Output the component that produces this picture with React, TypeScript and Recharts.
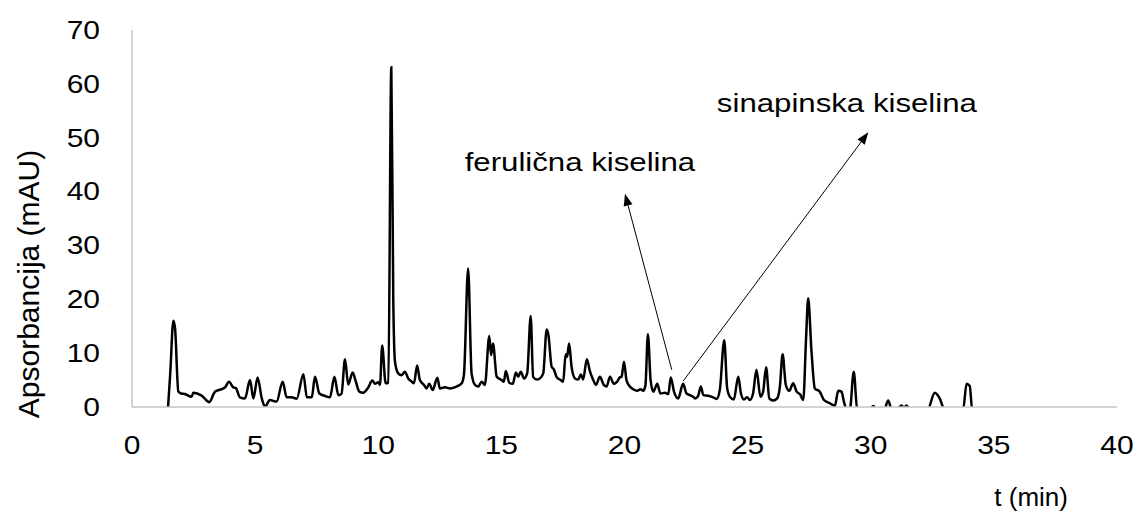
import { LineChart, Line, XAxis, YAxis, ReferenceLine, ReferenceDot } from 'recharts';

// retention time (min) and absorbance (mAU)
const times = [
  1.45, 1.55, 1.68, 1.75, 1.88, 2.0, 2.15, 2.42, 2.49, 2.83, 3.14, 3.37, 3.57, 3.78, 3.94, 4.11, 4.22, 4.38,
  4.59, 4.79, 4.93, 5.1, 5.27, 5.4, 5.6, 5.87, 6.12, 6.28, 6.48, 6.69, 6.96, 7.1, 7.3, 7.43, 7.61, 7.84,
  8.04, 8.22, 8.38, 8.51, 8.65, 8.78, 8.96, 9.09, 9.23, 9.39, 9.59, 9.76, 9.87, 10.0, 10.07, 10.16, 10.3,
  10.41, 10.53, 10.61, 10.68, 10.81, 10.95, 11.08, 11.22, 11.36, 11.45, 11.58, 11.69, 11.86, 11.96, 12.07,
  12.21, 12.4, 12.5, 12.71, 12.91, 13.18, 13.39, 13.48, 13.65, 13.79, 13.93, 14.06, 14.2, 14.33, 14.51,
  14.58, 14.66, 14.81, 15.01, 15.1, 15.18, 15.32, 15.46, 15.59, 15.68, 15.79, 15.92, 16.05, 16.19, 16.29,
  16.43, 16.56, 16.7, 16.84, 16.91, 17.04, 17.13, 17.24, 17.41, 17.51, 17.61, 17.67, 17.75, 17.85, 17.99,
  18.12, 18.23, 18.32, 18.47, 18.6, 18.73, 18.84, 19.0, 19.16, 19.27, 19.41, 19.57, 19.7, 19.81, 19.88,
  19.98, 20.08, 20.22, 20.35, 20.52, 20.65, 20.76, 20.85, 20.95, 21.06, 21.17, 21.33, 21.46, 21.64, 21.78,
  21.88, 22.01, 22.18, 22.38, 22.52, 22.66, 22.79, 22.86, 22.99, 23.1, 23.2, 23.4, 23.6, 23.74, 23.87,
  24.05, 24.17, 24.28, 24.44, 24.62, 24.73, 24.85, 24.98, 25.09, 25.22, 25.36, 25.52, 25.63, 25.75, 25.88,
  26.04, 26.2, 26.31, 26.42, 26.55, 26.69, 26.85, 26.99, 27.12, 27.26, 27.37, 27.46, 27.59, 27.73, 27.93,
  28.1, 28.34, 28.54, 28.68, 28.81, 28.91, 29.02, 29.15, 29.31, 29.45, 29.7, 30.0, 30.1, 30.25, 30.55,
  30.71, 30.85, 31.1, 31.25, 31.35, 31.45, 31.6, 32.3, 32.6, 32.8, 33.0, 33.75, 33.89, 34.02, 34.12, 35.0,
];

const absorbance = [
  -1, 6, 16.0, 14.5, 2.9, 2.5, 2.4, 1.9, 2.65, 2.1, 0.9, 2.85, 3.2, 3.65, 4.7, 3.65, 3.5, 1.8,
  1.6, 5.0, 1.6, 5.5, 1.6, 0.05, 1.3, 1.0, 4.7, 1.8, 1.8, 1.55, 6.1, 1.8, 1.8, 5.6, 2.5, 2.05,
  1.8, 5.6, 2.2, 2.5, 8.85, 4.2, 6.4, 4.7, 2.85, 2.65, 3.6, 4.9, 4.3, 4.6, 4.1, 11.4, 4.4,
  4.5, 63.1, 20, 8.4, 6.25, 5.9, 6.55, 5.3, 4.7, 4.4, 7.7, 5.0, 4.1, 3.45, 4.3,
  3.15, 5.45, 3.45, 3.65, 3.45, 3.8, 4.4, 6, 25.7, 6.25, 4.1, 3.8, 4.7, 4.1, 13.2,
  9.65, 11.8, 5.6, 5.0, 4.7, 6.7, 4.5, 4.3, 6.4, 5.6, 6.55, 5.3, 6.3, 16.9, 5.6,
  5.1, 5.3, 6.25, 14.4, 13.4, 7.5, 7.0, 5.6, 5.0, 4.7, 9.8, 9.3, 11.8, 7.5, 5.3,
  5.1, 6.05, 5.1, 8.85, 6.55, 5.0, 4.1, 5.6, 4.1, 3.8, 5.6, 4.3, 4.7, 5.5, 5.6,
  8.4, 5.0, 3.8, 3.3, 3.0, 3.3, 3.0, 4.0, 13.5, 5.0, 2.85, 4.3, 2.5, 2.65, 2.4,
  5.5, 2.85, 1.6, 4.3, 2.5, 2.2, 1.9, 1.6, 2.05, 3.8, 2.2, 2.1, 1.8, 1.5, 3.15,
  12.4, 3.45, 1.9, 1.4, 5.6, 2.5, 1.4, 1.8, 1.3, 2.5, 6.9, 1.9, 2.85, 7.4, 1.6,
  1.2, 1.6, 3.8, 9.8, 4.1, 3.0, 4.4, 2.85, 2.4, 1.3, 12.4, 20.2, 10.6, 3.45, 2.85,
  1.3, 0.7, 0.2, 3.0, 2.85, 1.0, -0.5, -0.5, 6.55, -0.5, -0.8, -0.3, 0.2, -0.5, -0.4,
  1.2, -0.5, -0.3, 0.3, -0.2, 0.3, -0.6, -0.6, 2.65, 1.6, -0.5, -0.5, 4.3, 3.9, -0.5, -0.8,
];

const xTicks = [0, 5, 10, 15, 20, 25, 30, 35, 40];
const yTicks = [0, 10, 20, 30, 40, 50, 60, 70];

// peak labels: text anchor point and arrow from peak to text
const annotationNames = ['ferulična kiselina', 'sinapinska kiselina'];
const annotationText = [
  { t: 18.19, a: 45.6 },
  { t: 29.03, a: 56.4 },
];
const annotationArrows = [
  [{ t: 21.92, a: 6.9 }, { t: 20.02, a: 39.6 }],
  [{ t: 22.38, a: 4.8 }, { t: 29.9, a: 51.0 }],
];

const data = times.map((t, i) => ({ t, a: absorbance[i] }));

const FONT = '"Liberation Sans", Arial, sans-serif';
const AXIS_GRAY = '#c4c4c4';
const STRETCH = 1.2; // the source picture is a bit wider than tall

const Arrow = (props: any) => {
  const { x1, y1, x2, y2 } = props;
  const ang = Math.atan2(y2 - y1, x2 - x1);
  const len = 12;
  const w = 4.5;
  const bx = x2 - len * Math.cos(ang);
  const by = y2 - len * Math.sin(ang);
  const px = -Math.sin(ang) * w;
  const py = Math.cos(ang) * w;
  return (
    <g>
      <line x1={x1} y1={y1} x2={bx} y2={by} stroke="#000" strokeWidth={1} />
      <polygon points={`${x2},${y2} ${bx + px},${by + py} ${bx - px},${by - py}`} fill="#000" />
    </g>
  );
};

const StretchText = ({ x, y, anchor, dy, size, children }: any) => (
  <g transform={`translate(${x},${y}) scale(${STRETCH},1)`}>
    <text x={0} y={0} dy={dy} textAnchor={anchor} fontFamily={FONT} fontSize={size} fill="#000">
      {children}
    </text>
  </g>
);

const YTick = (p: any) => (
  <StretchText x={p.x} y={p.y} anchor="end" dy="0.355em" size={25}>
    {p.payload.value}
  </StretchText>
);

const XTick = (p: any) => (
  <StretchText x={p.x} y={p.y} anchor="middle" dy="0.71em" size={25}>
    {p.payload.value}
  </StretchText>
);

const YTitle = () => (
  <text x={28} y={284} transform="rotate(-90 28 284)" textAnchor="middle" dominantBaseline="central"
    fontFamily={FONT} fontSize={30} fill="#000">
    Apsorbancija (mAU)
  </text>
);

const XTitle = (props: any) => {
  const vb = props.viewBox || { x: 132, width: 985 };
  return (
    <text x={vb.x + vb.width - 49} y={497} textAnchor="end" dominantBaseline="central"
      fontFamily={FONT} fontSize={26} fill="#000">
      t (min)
    </text>
  );
};

const App = () => {
  return (
    <div style={{ position: 'absolute', left: 0, top: 0, background: '#fff' }}>
      <LineChart width={1135} height={518} data={data} margin={{ top: 30, right: 18, bottom: 0, left: 0 }}>
        <XAxis
          dataKey="t"
          type="number"
          domain={[0, 40]}
          ticks={xTicks}
          height={111}
          stroke={AXIS_GRAY}
          strokeWidth={1.5}
          tickLine={false}
          tickSize={6}
          tickMargin={23}
          tick={<XTick />}
          label={<XTitle />}
        />
        <YAxis
          domain={[0, 70]}
          ticks={yTicks}
          allowDataOverflow
          width={132}
          stroke={AXIS_GRAY}
          strokeWidth={1.5}
          tickLine={false}
          tickSize={6}
          tickMargin={26}
          tick={<YTick />}
          label={<YTitle />}
        />
        <Line
          type="monotone"
          dataKey="a"
          stroke="#000"
          strokeWidth={2.5}
          dot={false}
          isAnimationActive={false}
        />
        {annotationArrows.map((seg, i) => (
          <ReferenceLine
            key={`arrow-${i}`}
            segment={[{ x: seg[0].t, y: seg[0].a }, { x: seg[1].t, y: seg[1].a }]}
            shape={<Arrow />}
          />
        ))}
        {annotationNames.map((name, i) => (
          <ReferenceDot
            key={`label-${i}`}
            x={annotationText[i].t}
            y={annotationText[i].a}
            r={0}
            shape={(p: any) => (
              <StretchText x={p.cx} y={p.cy} anchor="middle" dy="0.355em" size={26}>
                {name}
              </StretchText>
            )}
          />
        ))}
      </LineChart>
    </div>
  );
};

export default App;
